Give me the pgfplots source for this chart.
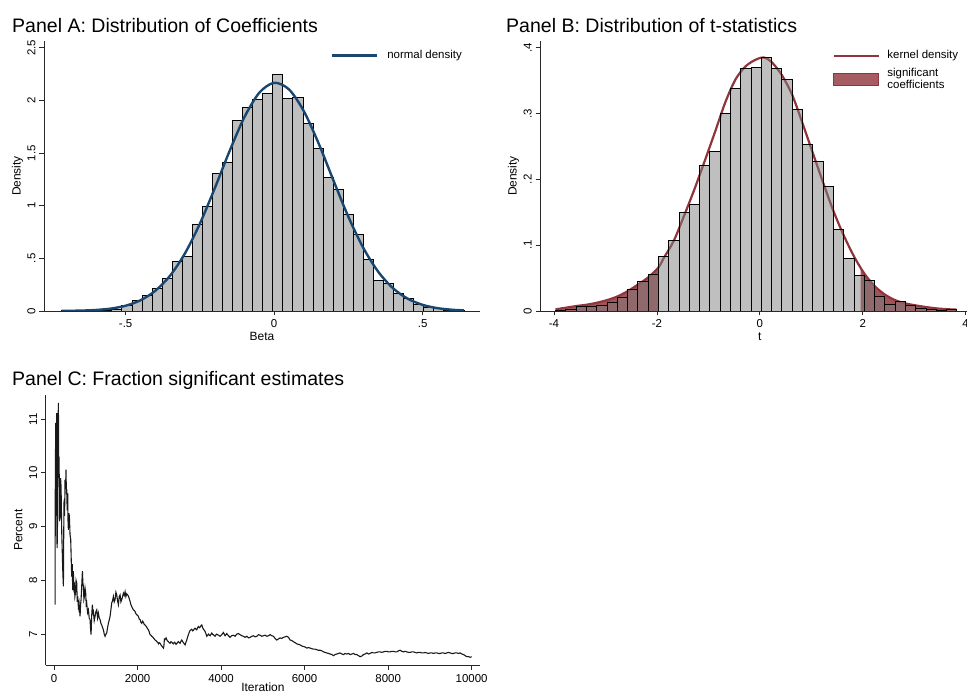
\documentclass[border=0pt]{standalone}
\usepackage{pgfplots}
\pgfplotsset{compat=1.18}
\usepackage{fontspec}
\setmainfont{Liberation Sans}

\definecolor{stnavy}{RGB}{26,71,111}
\definecolor{stcran}{RGB}{144,53,59}
\definecolor{bargray}{RGB}{191,191,191}
\definecolor{axisgray}{RGB}{40,40,40}

% Beta histogram: left bin edges and densities (last row closes the final bin)
\pgfplotstableread{
edge     dens
-0.7160  0.002
-0.6821  0.000
-0.6482  0.003
-0.6144  0.006
-0.5805  0.009
-0.5466  0.012
-0.5127  0.050
-0.4788  0.104
-0.4450  0.149
-0.4111  0.215
-0.3772  0.310
-0.3433  0.470
-0.3094  0.516
-0.2756  0.820
-0.2417  0.997
-0.2078  1.307
-0.1739  1.410
-0.1400  1.805
-0.1062  1.930
-0.0723  2.008
-0.0384  2.066
-0.0045  2.247
 0.0294  2.018
 0.0632  2.028
 0.0971  1.780
 0.1310  1.542
 0.1649  1.270
 0.1988  1.156
 0.2326  0.919
 0.2665  0.731
 0.3004  0.490
 0.3343  0.288
 0.3682  0.263
 0.4020  0.167
 0.4359  0.117
 0.4698  0.066
 0.5037  0.035
 0.5376  0.020
 0.5714  0.009
 0.6053  0.005
 0.6392  0.005
}\betahist

% Fitted normal density for Beta
\pgfplotstableread{
x       y
-0.716  0.0010
-0.675  0.0025
-0.650  0.0038
-0.600  0.0097
-0.550  0.0229
-0.500  0.0501
-0.450  0.1019
-0.400  0.1923
-0.350  0.3370
-0.300  0.5490
-0.250  0.8300
-0.200  1.1660
-0.150  1.5200
-0.100  1.8420
-0.050  2.0730
 0.000  2.1670
 0.050  2.1040
 0.100  1.8970
 0.150  1.5890
 0.200  1.2370
 0.250  0.8930
 0.300  0.6000
 0.350  0.3740
 0.400  0.2165
 0.450  0.1164
 0.500  0.0581
 0.550  0.0270
 0.600  0.0116
 0.639  0.0057
}\betanorm

% t-statistic histogram
\pgfplotstableread{
edge   dens
-3.97  0.0010
-3.77  0.0020
-3.57  0.0071
-3.37  0.0071
-3.17  0.0086
-2.97  0.0131
-2.77  0.0207
-2.57  0.0334
-2.37  0.0445
-2.17  0.0554
-1.97  0.0835
-1.77  0.1070
-1.57  0.1497
-1.37  0.1620
-1.17  0.2205
-0.97  0.2418
-0.77  0.3003
-0.57  0.3374
-0.37  0.3680
-0.17  0.3700
 0.03  0.3845
 0.23  0.3677
 0.43  0.3510
 0.63  0.3060
 0.83  0.2524
 1.03  0.2276
 1.23  0.1887
 1.43  0.1239
 1.63  0.0804
 1.83  0.0546
 2.03  0.0460
 2.23  0.0217
 2.43  0.0106
 2.63  0.0140
 2.83  0.0084
 3.03  0.0038
 3.23  0.0025
 3.43  0.0015
 3.63  0.0025
 3.83  0.0025
}\thist

% Kernel density of the t-statistics
\pgfplotstableread{
x      y
-3.97  0.0025
-3.77  0.0050
-3.57  0.0075
-3.37  0.0095
-3.17  0.0125
-2.97  0.0165
-2.77  0.0220
-2.57  0.0300
-2.37  0.0400
-2.17  0.0510
-1.97  0.0660
-1.87  0.0800
-1.67  0.1070
-1.47  0.1450
-1.27  0.1850
-1.07  0.2280
-0.87  0.2720
-0.67  0.3170
-0.47  0.3520
-0.27  0.3720
-0.07  0.3820
 0.08  0.3850
 0.23  0.3780
 0.43  0.3580
 0.63  0.3280
 0.83  0.2850
 1.03  0.2400
 1.23  0.1950
 1.43  0.1520
 1.63  0.1150
 1.83  0.0830
 2.03  0.0570
 2.23  0.0380
 2.43  0.0250
 2.63  0.0165
 2.83  0.0115
 3.03  0.0085
 3.23  0.0060
 3.43  0.0040
 3.63  0.0028
 3.83  0.0020
}\tkde

% Tails of the kernel density beyond |t| = 1.96
\pgfplotstableread{
x      y
-3.97  0.0025
-3.77  0.0050
-3.57  0.0075
-3.37  0.0095
-3.17  0.0125
-2.97  0.0165
-2.77  0.0220
-2.57  0.0300
-2.37  0.0400
-2.17  0.0510
-1.96  0.0668
}\tailleft
\pgfplotstableread{
x      y
 1.96  0.0655
 2.03  0.0570
 2.23  0.0380
 2.43  0.0250
 2.63  0.0165
 2.83  0.0115
 3.03  0.0085
 3.23  0.0060
 3.43  0.0040
 3.63  0.0028
 3.83  0.0020
}\tailright

% Running share of significant estimates (percent) by iteration
\pgfplotstableread{
it     pct
24     7.55
30     9.75
40     10.93
50     9.20
64     11.11
72     8.60
80     8.80
92     10.60
104    11.30
112    9.90
120    10.30
132    9.10
144    9.19
156    9.90
168    9.75
184    8.90
200    8.44
212    8.10
224    7.89
232    8.90
240    9.50
252    9.20
263    9.87
275    9.70
287    10.06
295    9.60
303    9.69
315    9.30
327    9.62
335    9.10
343    8.94
355    9.25
367    9.19
383    8.85
399    8.76
411    8.40
423    8.07
435    8.30
447    7.82
455    8.05
463    8.17
475    7.85
487    7.89
499    7.70
511    7.76
527    8.00
543    7.95
555    7.60
567    7.70
583    7.50
599    7.58
611    7.45
623    7.33
635    7.55
647    7.64
663    7.90
679    8.17
691    7.95
703    7.89
715    7.65
727    7.70
743    7.85
758    7.76
770    7.55
782    7.58
802    7.40
822    7.45
842    7.30
862    7.27
874    7.10
886    6.99
902    7.35
918    7.55
930    7.40
942    7.42
962    7.25
982    7.33
1002   7.42
1022   7.45
1042   7.30
1062   7.39
1082   7.30
1102   7.27
1122   7.20
1142   7.17
1162   7.12
1182   7.08
1202   7.00
1222   6.96
1242   7.00
1261   7.02
1281   7.12
1301   7.20
1321   7.26
1341   7.33
1361   7.45
1381   7.58
1401   7.62
1421   7.70
1441   7.60
1461   7.64
1481   7.78
1501   7.73
1521   7.62
1541   7.55
1561   7.70
1581   7.73
1601   7.60
1621   7.64
1641   7.70
1661   7.76
1681   7.72
1701   7.79
1720   7.70
1740   7.75
1760   7.73
1780   7.71
1800   7.66
1820   7.61
1840   7.55
1860   7.51
1880   7.48
1900   7.45
1920   7.44
1940   7.42
1960   7.38
1980   7.36
2000   7.35
2020   7.33
2040   7.28
2060   7.27
2080   7.22
2100   7.20
2120   7.24
2140   7.22
2160   7.18
2180   7.17
2200   7.15
2220   7.13
2240   7.10
2260   7.08
2280   7.04
2299   6.99
2320   6.98
2339   6.96
2360   6.95
2379   6.93
2400   6.91
2419   6.89
2440   6.88
2459   6.86
2480   6.85
2499   6.82
2520   6.84
2539   6.83
2560   6.80
2579   6.78
2600   6.76
2619   6.74
2630   6.78
2643   6.91
2663   6.90
2683   6.93
2710   6.88
2738   6.86
2760   6.84
2778   6.83
2800   6.86
2818   6.85
2840   6.83
2858   6.82
2880   6.85
2898   6.84
2920   6.81
2938   6.82
2960   6.85
2978   6.86
3000   6.84
3018   6.83
3040   6.87
3058   6.89
3080   6.86
3098   6.84
3120   6.82
3138   6.80
3160   6.85
3178   6.89
3200   6.95
3218   6.99
3240   7.04
3257   7.07
3280   7.08
3297   7.09
3320   7.06
3337   7.07
3360   7.10
3377   7.11
3400   7.09
3417   7.08
3440   7.12
3457   7.14
3480   7.12
3497   7.13
3520   7.16
3537   7.17
3560   7.12
3577   7.09
3600   7.07
3617   7.05
3640   7.00
3657   6.96
3680   6.98
3697   7.00
3720   6.98
3737   6.97
3760   7.00
3776   7.02
3800   6.99
3816   6.99
3840   6.97
3856   6.96
3880   6.99
3896   7.00
3936   6.98
3976   6.96
4016   6.99
4056   7.03
4096   6.97
4136   7.01
4176   6.97
4216   6.94
4255   6.97
4295   6.98
4335   6.96
4375   7.00
4415   7.01
4455   6.99
4495   6.97
4535   6.96
4575   6.94
4615   6.96
4655   6.93
4695   6.94
4735   6.96
4774   6.97
4814   6.95
4854   6.96
4894   6.99
4934   6.98
4974   6.96
5014   6.97
5054   6.98
5094   6.96
5134   6.97
5174   6.99
5214   6.97
5253   6.96
5293   6.92
5333   6.89
5373   6.91
5413   6.93
5453   6.92
5493   6.94
5533   6.95
5573   6.96
5613   6.94
5653   6.89
5692   6.88
5732   6.86
5772   6.84
5812   6.82
5852   6.81
5892   6.80
5932   6.78
5972   6.77
6012   6.76
6052   6.74
6092   6.75
6132   6.74
6172   6.73
6212   6.72
6251   6.72
6291   6.71
6331   6.70
6371   6.70
6411   6.69
6451   6.67
6491   6.66
6531   6.65
6571   6.64
6611   6.63
6651   6.62
6691   6.60
6730   6.62
6770   6.63
6810   6.64
6850   6.65
6890   6.63
6930   6.62
6970   6.64
7010   6.63
7050   6.64
7090   6.62
7130   6.63
7170   6.64
7210   6.62
7249   6.62
7289   6.60
7329   6.58
7369   6.59
7409   6.62
7449   6.63
7489   6.65
7529   6.63
7569   6.64
7609   6.66
7649   6.65
7689   6.65
7728   6.66
7768   6.67
7808   6.67
7848   6.66
7888   6.67
7928   6.68
7968   6.68
8008   6.67
8048   6.67
8088   6.68
8128   6.68
8168   6.67
8208   6.67
8248   6.69
8287   6.70
8327   6.68
8367   6.67
8407   6.68
8447   6.67
8487   6.66
8527   6.66
8567   6.67
8607   6.67
8647   6.66
8687   6.65
8727   6.66
8766   6.66
8806   6.65
8846   6.65
8886   6.66
8926   6.65
8966   6.64
9006   6.65
9046   6.65
9086   6.64
9126   6.65
9166   6.65
9206   6.64
9245   6.64
9285   6.65
9325   6.65
9365   6.64
9405   6.65
9445   6.66
9485   6.65
9525   6.64
9565   6.64
9605   6.65
9645   6.65
9685   6.64
9725   6.65
9765   6.63
9804   6.62
9844   6.60
9884   6.58
9924   6.58
9964   6.57
10000  6.58
}\fracsig

\pgfplotsset{
  stata/.style={
    scale only axis,
    axis x line*=bottom,
    axis y line*=left,
    axis line style={-, line width=0.9bp, axisgray},
    tick align=outside,
    major tick length=4.5bp,
    every tick/.style={line width=0.8bp, axisgray},
    tick label style={font=\fontsize{11.5}{11.5}\selectfont},
    yticklabel style={xshift=-4bp, rotate=90, anchor=base, inner sep=0pt},
    xticklabel style={yshift=-12.5bp, anchor=base, inner sep=0pt},
    /pgf/number format/assume math mode=true,
    scaled ticks=false,
    every axis x label/.style={at={(axis description cs:0.5,0)}, anchor=base, yshift=-30bp, font=\fontsize{12}{12}\selectfont},
    every axis y label/.style={at={(axis description cs:0,0.5)}, xshift=-23.3bp, rotate=90, anchor=base, font=\fontsize{12}{12}\selectfont},
    legend cell align=left,
  },
}

\begin{document}
\begin{tikzpicture}
\useasboundingbox (0,0) rectangle (967bp,693bp);
\clip (0,0) rectangle (967bp,693bp);

% Panel A
\node[anchor=base west, inner sep=0pt, font=\fontsize{19.6}{20}\selectfont] at (12bp,660.7bp) {Panel A: Distribution of Coefficients};
\begin{axis}[stata,
  at={(44bp,382bp)}, anchor=south west,
  width=436bp, height=270bp,
  xmin=-0.775, xmax=0.693, ymin=0, ymax=2.564,
  xtick={-0.5,0,0.5}, xticklabels={-.5,0,.5},
  ytick={0,0.5,1,1.5,2,2.5}, yticklabels={0,.5,1,1.5,2,2.5},
  xlabel={Beta}, ylabel={Density},
  legend style={draw=none, fill=none, inner sep=0pt, outer sep=0pt,
    at={(axis description cs:0.658,0.9456)}, anchor=west,
    nodes={inner sep=0pt, text depth=, font=\fontsize{11.5}{11.5}\selectfont},
    column sep=9bp},
]
\addlegendimage{legend image code/.code={\draw[stnavy, line width=2.4bp] (0bp,0bp) -- (45bp,0bp);}}
\addlegendentry{normal density}
\addplot[ybar interval, fill=bargray, draw=black, line width=0.9bp, forget plot] table[x=edge, y=dens] {\betahist};
\addplot[stnavy, line width=2.4bp, smooth, forget plot] table[x=x, y=y] {\betanorm};
\end{axis}

% Panel B
\node[anchor=base west, inner sep=0pt, font=\fontsize{19.6}{20}\selectfont] at (506bp,660.7bp) {Panel B: Distribution of t-statistics};
\begin{axis}[stata,
  at={(540bp,382bp)}, anchor=south west,
  width=439.5bp, height=270bp,
  xmin=-4.272, xmax=4.27, ymin=0, ymax=0.41,
  xtick={-4,-2,0,2,4}, xticklabels={-4,-2,0,2,4},
  ytick={0,0.1,0.2,0.3,0.4}, yticklabels={0,.1,.2,.3,.4},
  xlabel={t}, ylabel={Density},
  legend style={draw=none, fill=none, inner sep=0pt, outer sep=0pt,
    at={(axis description cs:0.666,0.9644)}, anchor=north west,
    nodes={inner sep=0pt, text depth=, font=\fontsize{11.5}{11.5}\selectfont},
    column sep=7.5bp, row sep=6.9bp},
]
\addlegendimage{legend image code/.code={\draw[stcran, line width=2.2bp] (0bp,0bp) -- (45bp,0bp);}}
\addlegendentry{kernel density}
\addlegendimage{legend image code/.code={\draw[fill=stcran, fill opacity=0.8, draw=stcran, line width=1.1bp] (0bp,-6bp) rectangle (45bp,6bp);}}
\addlegendentry{\renewcommand{\arraystretch}{0.96}\begin{tabular}{@{}l@{}}significant\\coefficients\end{tabular}}
\addplot[fill=stcran, fill opacity=0.85, draw=none, forget plot] table[x=x, y=y] {\tailleft} \closedcycle;
\addplot[fill=stcran, fill opacity=0.85, draw=none, forget plot] table[x=x, y=y] {\tailright} \closedcycle;
\addplot[stcran, line width=2.2bp, smooth, forget plot] table[x=x, y=y] {\tkde};
\addplot[ybar interval, fill=black!50, fill opacity=0.5, draw=black, line width=0.9bp, forget plot] table[x=edge, y=dens] {\thist};
\end{axis}

% Panel C
\node[anchor=base west, inner sep=0pt, font=\fontsize{19.6}{20}\selectfont] at (12bp,307bp) {Panel C: Fraction significant estimates};
\begin{axis}[stata,
  at={(45.7bp,27.7bp)}, anchor=south west,
  width=434.3bp, height=270.4bp,
  xmin=-200, xmax=10200, ymin=6.42, ymax=11.45,
  xtick={0,2000,4000,6000,8000,10000}, xticklabels={0,2000,4000,6000,8000,10000},
  ytick={7,8,9,10,11}, yticklabels={7,8,9,10,11},
  xlabel={Iteration}, ylabel={Percent},
  xlabel style={yshift=4bp},
]
\addplot[black!90, line width=1.1bp] table[x=it, y=pct] {\fracsig};
\end{axis}
\end{tikzpicture}
\end{document}
